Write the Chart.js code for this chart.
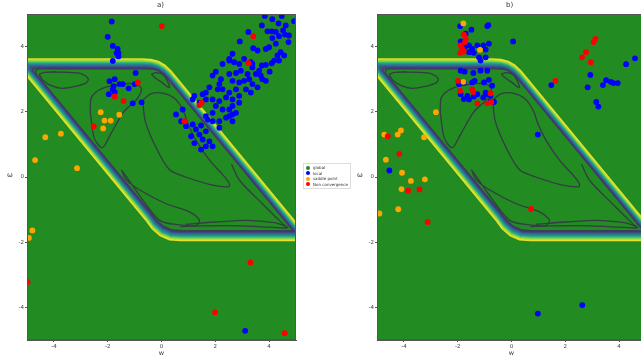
<!DOCTYPE html>
<html>
<head>
<meta charset="utf-8">
<script src="https://cdn.jsdelivr.net/npm/chart.js@4.4.1/dist/chart.umd.min.js"></script>
<style>
  body { margin: 0; width: 641px; height: 357px; overflow: hidden; background: #fff; position: relative; font-family: "DejaVu Sans", sans-serif; }
  canvas { position: absolute; top: 0; }
  .lbl { position: absolute; color: #333; white-space: nowrap; }
  #legend { position: absolute; left: 303px; top: 163px; width: 42px; border: 1px solid #ddd; background: #fff; padding: 1px 2px; font-size: 4px; line-height: 5.5px; color: #333; white-space: nowrap; }
  #legend span.dot { display: inline-block; width: 4px; height: 4px; border-radius: 50%; margin-right: 3px; vertical-align: -0.5px; }
</style>
</head>
<body>
<canvas id="chartA" width="300" height="357" style="left:0"></canvas>
<canvas id="chartB" width="300" height="357" style="left:350px"></canvas>
<div class="lbl" style="left:157px;top:1px;font-size:7px">a)</div>
<div class="lbl" style="left:506px;top:1px;font-size:7px">b)</div>
<div class="lbl" style="left:7px;top:171px;font-size:7px">ω</div>
<div class="lbl" style="left:357px;top:171px;font-size:7px">ω</div>
<div id="legend"></div>
<script>
// axis ticks
const xTicks = [-4, -2, 0, 2, 4];
const yTicks = [-4, -2, 0, 2, 4];

// legend
const legendLabels = ['global', 'local', 'saddle point', 'Non convergence'];
const legendColors = ['#228b22', '#0000ff', '#ffa500', '#ff0000'];

// panel a) points [w, ϖ]
const localA = [
  [-1.85,4.77],[-2.0,4.3],[-1.81,4.02],[-1.63,3.93],[-1.6,3.8],[-1.67,3.8],[-1.6,3.7],[-1.81,3.56],
  [-1.93,2.94],[-1.74,3.0],[-1.78,2.79],[-1.81,2.69],[-1.96,2.54],[-1.74,2.6],[-1.56,2.85],[-1.44,2.85],
  [-1.22,2.72],[-1.0,2.85],[-0.96,3.19],[-1.07,2.26],[-0.74,2.29],
  [3.84,4.94],[4.47,4.94],[4.93,4.78],[4.12,4.84],[4.35,4.71],[3.73,4.65],[4.62,4.65],[3.94,4.47],
  [4.10,4.47],[4.25,4.45],[4.52,4.50],[4.59,4.37],[4.37,4.32],[4.12,4.26],[4.74,4.34],[3.23,4.45],
  [2.91,4.16],[3.41,3.95],[3.57,3.88],[3.88,3.93],[4.0,3.98],[4.25,4.09],[4.72,4.14],[4.43,3.83],
  [4.31,3.73],[4.56,3.73],[4.19,3.57],[4.37,3.57],[4.10,3.49],[3.88,3.44],[3.73,3.42],[4.02,3.23],
  [3.63,3.26],[3.51,3.16],[3.69,3.11],[3.75,3.0],[3.38,3.36],[3.32,3.52],[2.89,3.47],[2.64,3.78],
  [2.52,3.57],[2.27,3.47],[2.02,3.23],[1.90,3.11],[2.21,3.0],[2.52,3.16],[2.77,3.19],[2.95,3.26],
  [3.20,3.16],[3.07,2.95],[3.26,3.0],[3.38,2.85],[3.57,2.75],[3.88,2.95],[2.89,2.90],[2.64,2.95],
  [2.15,2.85],[2.09,2.69],[1.78,2.75],[1.65,2.59],[2.27,2.69],[2.52,2.59],[2.77,2.69],[3.14,2.69],
  [3.32,2.59],[2.89,2.49],[2.64,2.38],[2.40,2.44],[2.15,2.33],[1.90,2.38],[1.65,2.38],[1.53,2.54],
  [1.22,2.49],[1.16,2.38],[1.41,2.28],[2.89,2.28],[2.64,2.18],[2.52,2.07],[2.27,2.07],[2.02,2.18],
  [1.90,1.97],[1.65,1.87],[1.72,1.76],[1.90,1.71],[2.15,1.71],[2.52,1.87],[2.64,1.92],[2.77,1.97],
  [2.64,1.71],[2.40,1.82],[2.15,1.51],[0.79,2.07],[0.54,1.92],[0.73,1.71],[0.91,1.56],[1.16,1.61],
  [1.47,1.58],[1.28,1.46],[1.65,1.40],[1.10,1.25],[1.41,1.30],[1.53,1.15],[1.78,1.09],[1.90,0.94],
  [1.65,0.94],[1.47,0.84],[1.22,1.04],[2.52,3.62],[2.70,3.52],[3.07,3.62],[3.38,3.47],
  [3.11,-4.72]
];
const saddleA = [
  [-2.26,1.99],[-1.57,1.91],[-2.12,1.73],[-1.89,1.73],[-2.17,1.49],[-3.74,1.33],[-4.32,1.22],
  [-4.70,0.52],[-3.14,0.27],[-4.80,-1.64],[-4.93,-1.87]
];
const nonConvA = [
  [0.01,4.63],[3.41,4.32],[3.23,3.50],[-0.88,2.90],[-1.74,2.47],[-1.41,2.33],[1.41,2.20],[1.49,2.28],
  [0.85,1.71],[-2.52,1.56],[3.31,-2.62],[1.99,-4.15],[4.58,-4.79],[-4.98,-3.22]
];

// panel b) points [w, ϖ]
const localB = [
  [-1.91,4.63],[-1.70,4.40],[-1.49,4.52],[-0.90,4.63],[-0.86,4.66],[0.06,4.16],[-1.89,4.16],[-1.74,3.98],
  [-1.58,4.04],[-1.46,3.93],[-1.27,4.04],[-1.05,4.04],[-0.84,4.09],[-0.96,3.91],[-1.58,3.83],[-1.40,3.81],
  [-1.21,3.67],[-0.96,3.67],[-1.15,3.57],[-1.89,3.26],[-1.74,3.23],[-1.42,3.19],[-1.15,3.26],[-0.90,3.26],
  [-1.95,2.85],[-1.77,2.90],[-1.46,2.90],[-1.37,2.95],[-1.02,2.90],[-0.84,2.98],[-0.72,2.80],[-1.89,2.54],
  [-1.64,2.49],[-1.40,2.47],[-1.27,2.54],[-0.96,2.59],[-0.90,2.54],[-0.78,2.49],[-1.77,2.39],[-1.58,2.38],
  [-1.05,2.44],[-0.78,2.33],[-0.65,2.30],[0.98,1.30],[1.48,2.82],[2.83,2.75],[2.93,3.13],[3.15,2.30],
  [3.23,2.16],[3.40,2.82],[3.52,2.97],[3.69,2.92],[3.79,2.88],[3.95,2.88],[4.26,3.46],[4.59,3.64],
  [-4.54,0.20],[0.98,-4.19],[2.63,-3.93]
];
const saddleB = [
  [-1.79,4.71],[-1.17,3.90],[-1.79,2.92],[-2.81,1.99],[-4.11,1.43],[-4.23,1.30],[-4.73,1.30],[-3.25,1.22],
  [-4.67,0.53],[-4.07,0.13],[-3.74,-0.12],[-3.22,-0.07],[-4.09,-0.37],[-4.21,-0.99],[-4.91,-1.12]
];
const nonConvB = [
  [-1.77,4.37],[-1.70,4.24],[-1.89,4.04],[-1.83,3.93],[-1.77,3.85],[-1.91,3.81],[-1.73,4.14],[-1.99,2.95],
  [-1.91,2.64],[-1.46,2.69],[-1.42,2.61],[-0.78,2.57],[-1.27,2.26],[-0.90,2.26],[-0.75,2.30],[1.63,2.95],
  [2.62,3.67],[2.77,3.83],[2.95,3.52],[3.05,4.14],[3.12,4.24],[-4.60,1.25],[-4.17,0.71],[-3.84,-0.42],
  [-3.42,-0.38],[-3.12,-1.38],[0.73,-0.98]
];

// contour band: outer (yellow) and inner (dark) edges of the steep wall, same point count
const bandOuter = [
  [-5.52,3.62],[-5.52,3.62],[-5.52,3.62],
  [-0.75,3.62],[-0.4,3.6],[-0.12,3.54],[0.12,3.43],[0.35,3.25],
  [5.55,-1.95],
  [0.7,-1.95],[0.3,-1.92],[-0.05,-1.8],[-0.35,-1.58],[-0.6,-1.3],
  [-5.52,3.62]
];
const bandInner = [
  [-4.70,3.20],[-4.68,3.29],[-4.55,3.32],
  [-0.55,3.32],[-0.3,3.31],[-0.11,3.26],[0.08,3.14],[0.27,2.98],
  [4.9,-1.65],
  [0.8,-1.65],[0.4,-1.63],[0.08,-1.52],[-0.2,-1.32],[-0.45,-1.05],
  [-4.70,3.20]
];
const bandLevels = [0, 0.11, 0.22, 0.33, 0.44, 0.56, 0.67, 0.78, 0.89, 1];
const bandColors = ['#e8e02a','#b5de2b','#6ece58','#35b779','#1f9e89','#26828e','#31688e','#3e4989','#46337e','#3a3f55'];

// inner contour loops
const loopA = [[-4.55,3.15],[-4.35,3.21],[-3.9,3.22],[-3.2,3.2],[-2.88,3.13],[-2.72,3.0],[-2.82,2.88],[-3.2,2.78],[-3.7,2.72],[-4.1,2.8],[-4.42,2.98],[-4.55,3.15]];
const loopB = [[-0.38,3.15],[-0.2,3.2],[0.05,3.15],[0.2,2.98],[0.3,2.75],[0.22,2.76],[0.05,2.88],[-0.2,3.02],[-0.38,3.15]];
const loopC = [[-2.65,2.0],[-2.6,2.45],[-2.2,2.72],[-1.5,2.85],[-1.0,2.86],[-0.75,2.72],[-0.9,2.4],[-1.4,2.0],[-1.9,1.3],[-2.2,0.9],[-2.5,1.2],[-2.65,2.0]];
const loopD = [[-0.7,2.35],[-0.4,2.55],[0.05,2.57],[0.5,2.4],[0.8,2.05],[1.0,1.6],[1.3,1.1],[1.8,0.5],[2.3,0.05],[2.52,-0.2],[2.5,-0.3],[1.9,-0.25],[0.9,0.0],[0.3,0.22],[-0.2,0.9],[-0.6,1.7],[-0.7,2.35]];
const loopE = [[-1.49,0.22],[-1.31,-0.09],[-0.81,-0.4],[0.17,-0.82],[1.04,-1.07],[1.41,-1.33],[1.28,-1.49],[0.67,-1.47],[-0.07,-1.33],[-0.7,-0.7],[-1.3,0.0],[-1.49,0.22]];
const loopF = [[2.6,0.4],[2.9,-0.1],[3.75,-0.82],[4.5,-1.43],[4.68,-1.56],[3.6,-1.52],[2.5,-1.49],[1.5,-1.5],[0.7,-1.52]];
const loopG = [[0.9,-1.45],[2.0,-1.38],[3.2,-1.33],[4.2,-1.4],[4.6,-1.5]];
const loops = [loopA, loopB, loopC, loopD, loopE, loopF, loopG];

const toXY = arr => arr.map(p => ({ x: p[0], y: p[1] }));

function bandDatasets() {
  return bandLevels.map((t, i) => ({
    type: 'scatter',
    data: bandOuter.map((p, k) => ({
      x: p[0] + (bandInner[k][0] - p[0]) * t,
      y: p[1] + (bandInner[k][1] - p[1]) * t
    })),
    showLine: true,
    borderColor: bandColors[i],
    borderWidth: 1.6,
    pointRadius: 0,
    fill: false,
    order: 10
  }));
}

function loopDatasets() {
  return loops.map(l => ({
    type: 'scatter',
    data: toXY(l),
    showLine: true,
    borderColor: '#343c44',
    borderWidth: 1.3,
    pointRadius: 0,
    tension: 0.3,
    fill: false,
    order: 9
  }));
}

function pointSet(arr, color, order) {
  return {
    type: 'scatter',
    data: toXY(arr),
    backgroundColor: color,
    borderWidth: 0,
    pointRadius: 2.9,
    order: order
  };
}

const framePlugin = {
  id: 'frame',
  beforeDatasetsDraw(chart) {
    const a = chart.chartArea, ctx = chart.ctx;
    ctx.save();
    ctx.fillStyle = '#228b22';
    ctx.fillRect(a.left, a.top, a.right - a.left, a.bottom - a.top);
    ctx.restore();
  },
  afterDatasetsDraw(chart) {
    const a = chart.chartArea, ctx = chart.ctx;
    ctx.save();
    ctx.strokeStyle = '#555';
    ctx.lineWidth = 1;
    ctx.strokeRect(a.left + 0.5, a.top + 0.5, a.right - a.left - 1, a.bottom - a.top - 1);
    ctx.restore();
  }
};

function axis(ticks, isX) {
  return {
    type: 'linear',
    min: -5,
    max: 5,
    afterBuildTicks: s => { s.ticks = ticks.map(v => ({ value: v })); },
    afterFit: s => { if (isX) s.height = 17; else s.width = 27; },
    ticks: { font: { size: 5.5, family: 'DejaVu Sans' }, color: '#444', padding: 1 },
    grid: { drawOnChartArea: false, drawTicks: true, tickLength: 2, color: '#555' },
    border: { display: true, color: '#555' },
    title: isX ? { display: true, text: 'w', font: { size: 6.5, family: 'DejaVu Sans' }, color: '#333', padding: 0 } : { display: false }
  };
}

function makeChart(id, local, saddle, nonConv) {
  new Chart(document.getElementById(id), {
    type: 'scatter',
    data: {
      datasets: [
        pointSet(nonConv, '#ff0000', 0),
        pointSet(saddle, '#ffa500', 1),
        pointSet(local, '#0000ff', 2),
        ...loopDatasets(),
        ...bandDatasets()
      ]
    },
    options: {
      responsive: false,
      animation: false,
      layout: { padding: { top: 14, right: 4, left: 0, bottom: 0 } },
      plugins: { legend: { display: false }, tooltip: { enabled: false } },
      scales: { x: axis(xTicks, true), y: axis(yTicks, false) }
    },
    plugins: [framePlugin]
  });
}

makeChart('chartA', localA, saddleA, nonConvA);
makeChart('chartB', localB, saddleB, nonConvB);

const lg = document.getElementById('legend');
legendLabels.forEach((t, i) => {
  const row = document.createElement('div');
  row.innerHTML = '<span class="dot" style="background:' + legendColors[i] + '"></span>' + t;
  lg.appendChild(row);
});
</script>
</body>
</html>
